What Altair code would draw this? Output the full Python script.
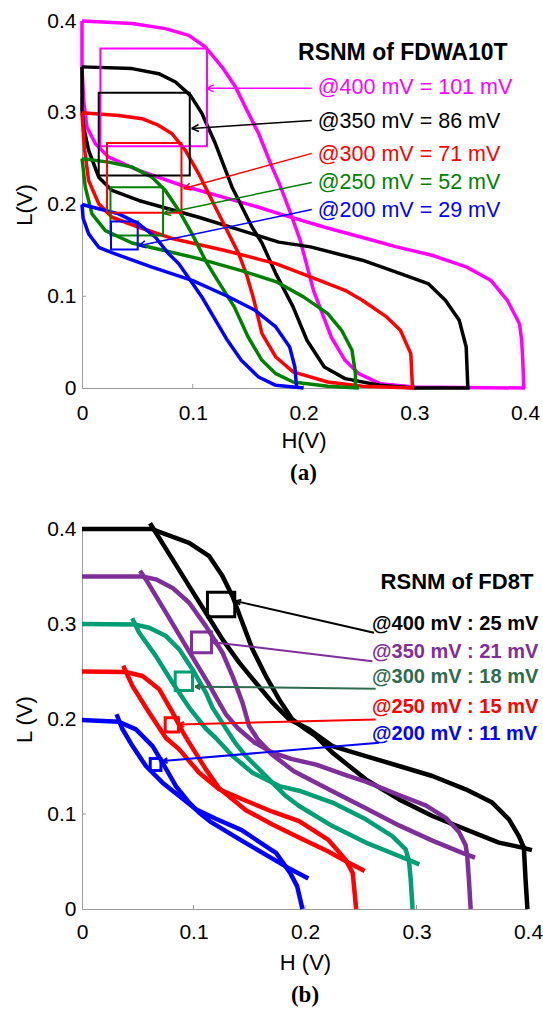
import math
import altair as alt
import pandas as pd

# ======================= Panel (a): RSNM of FDWA10T =======================
# butterfly curves, (H, L) in volts
A400_1 = [(0, 0.4), (0.0452, 0.3972), (0.0753, 0.3917), (0.0964, 0.3844), (0.1115, 0.3716), (0.1265, 0.3498),
          (0.1386, 0.328), (0.149, 0.3026), (0.1596, 0.2771), (0.1716, 0.2407), (0.1777, 0.224), (0.187, 0.195),
          (0.197, 0.161), (0.209, 0.1065), (0.225, 0.0556), (0.2375, 0.0302), (0.25, 0.0156), (0.269, 0.0047),
          (0.3, 0.001), (0.4, 0)]
A400_2 = [(0.399, 0), (0.398, 0.03), (0.397, 0.052), (0.395, 0.07), (0.384, 0.0956), (0.369, 0.1175), (0.347, 0.132),
          (0.316, 0.1447), (0.284, 0.1538), (0.2625, 0.161), (0.22, 0.175), (0.1777, 0.19), (0.1596, 0.197),
          (0.0903, 0.2207), (0.0512, 0.2371), (0.0241, 0.2516), (0.0121, 0.2662), (0.0045, 0.2843),
          (0.0015, 0.3135), (0, 0.3498), (0, 0.4)]
A350_1 = [(0, 0.35), (0.0452, 0.3481), (0.0693, 0.3426), (0.0844, 0.3335), (0.0979, 0.3189), (0.1084, 0.299),
          (0.1205, 0.2662), (0.1355, 0.2189), (0.1536, 0.1752), (0.1625, 0.158), (0.175, 0.1247), (0.1906, 0.0884),
          (0.2031, 0.052), (0.2188, 0.0229), (0.2375, 0.0102), (0.2688, 0.0029), (0.3, 0), (0.35, 0)]
A350_2 = [(0.3484, 0), (0.3469, 0.0447), (0.3406, 0.0738), (0.3281, 0.0956), (0.3125, 0.1138), (0.2875, 0.1247),
          (0.2531, 0.1393), (0.2063, 0.1538), (0.1777, 0.159), (0.1054, 0.1861), (0.0512, 0.2044), (0.0271, 0.2153),
          (0.0151, 0.2298), (0.006, 0.2589), (0.0015, 0.2843), (0, 0.3026), (0, 0.35)]
A300_1 = [(0, 0.3), (0.0332, 0.2971), (0.0542, 0.2935), (0.0693, 0.2862), (0.0813, 0.2771), (0.0934, 0.2589),
          (0.1054, 0.2335), (0.1174, 0.2044), (0.1295, 0.1752), (0.1416, 0.1462), (0.149, 0.122), (0.155, 0.097),
          (0.1625, 0.0593), (0.175, 0.0338), (0.1906, 0.0175), (0.2219, 0.0065), (0.2531, 0.0018), (0.3, 0)]
A300_2 = [(0.2984, 0), (0.2969, 0.0375), (0.2875, 0.0629), (0.275, 0.0775), (0.2531, 0.0956), (0.2375, 0.1065),
          (0.2063, 0.1211), (0.175, 0.1356), (0.1281, 0.1502), (0.0813, 0.163), (0.0512, 0.1752), (0.0271, 0.1861),
          (0.0151, 0.2008), (0.006, 0.2262), (0.0024, 0.2589), (0.0006, 0.288), (0, 0.3)]
A250_1 = [(0, 0.25), (0.0241, 0.2462), (0.0452, 0.2407), (0.0632, 0.2298), (0.0753, 0.2153), (0.0874, 0.1935),
          (0.0994, 0.168), (0.1115, 0.1389), (0.121, 0.12), (0.1375, 0.0884), (0.15, 0.0556), (0.1625, 0.0302),
          (0.175, 0.0156), (0.1906, 0.0065), (0.2219, 0.0018), (0.25, 0)]
A250_2 = [(0.2469, 0), (0.2469, 0.0156), (0.2438, 0.0411), (0.2344, 0.0629), (0.2219, 0.0811), (0.2, 0.0993),
          (0.175, 0.116), (0.1438, 0.128), (0.1054, 0.141), (0.0452, 0.158), (0.0211, 0.1716), (0.009, 0.1898),
          (0.003, 0.2189), (0, 0.25)]
A200_1 = [(0, 0.2), (0.0151, 0.1953), (0.0332, 0.1898), (0.0512, 0.1789), (0.0663, 0.1643), (0.0783, 0.1462),
          (0.0874, 0.1353), (0.0975, 0.118), (0.1084, 0.0989), (0.1188, 0.0775), (0.1313, 0.052), (0.1438, 0.0302),
          (0.1594, 0.012), (0.175, 0.0029), (0.2, 0)]
A200_2 = [(0.1938, 0), (0.1922, 0.0229), (0.1875, 0.0447), (0.175, 0.0665), (0.1563, 0.0847), (0.1313, 0.1),
          (0.1, 0.117), (0.0625, 0.132), (0.0281, 0.147), (0.0151, 0.1534), (0.006, 0.168), (0.001, 0.185), (0, 0.2)]

A_CURVES = [A400_1, A400_2, A350_1, A350_2, A300_1, A300_2, A250_1, A250_2, A200_1, A200_2]
A_CURVE_COLORS = ["#FF00FF", "#FF00FF", "#000000", "#000000", "#FF0000", "#FF0000",
                  "#008000", "#008000", "#0000FF", "#0000FF"]

# RSNM boxes (H0, H1, L0, L1)
A_BOXES = [(0.0166, 0.1129, 0.2636, 0.3699), (0.0151, 0.0973, 0.2316, 0.3219), (0.0226, 0.0898, 0.1909, 0.2669),
           (0.0257, 0.0732, 0.1662, 0.2189), (0.0262, 0.0503, 0.1509, 0.1815)]
# arrows (tip H, tip L, tail H, tail L)
A_ARROWS = [(0.1126, 0.3266, 0.2075, 0.3266), (0.0991, 0.2829, 0.2075, 0.2916), (0.0919, 0.2175, 0.2075, 0.2557),
            (0.0738, 0.1902, 0.2075, 0.224), (0.0512, 0.155, 0.2075, 0.1945)]
A_LABELS = ["@400 mV = 101 mV", "@350 mV = 86 mV", "@300 mV = 71 mV", "@250 mV = 52 mV", "@200 mV = 29 mV"]
A_LABEL_H = [0.2129, 0.2129, 0.2129, 0.2129, 0.2129]
A_LABEL_L = [0.3266, 0.2895, 0.2535, 0.223, 0.1934]
A_COLORS = ["#FF00FF", "#000000", "#FF0000", "#008000", "#0000FF"]
A_TITLE = "RSNM of FDWA10T"
A_TITLE_POS = (0.2897, 0.3648)

# ======================= Panel (b): RSNM of FD8T =======================
B400_1 = [(0, 0.4), (0.063, 0.4), (0.0693, 0.397), (0.0961, 0.3855), (0.1141, 0.3714), (0.126, 0.3504),
          (0.135, 0.3293), (0.1439, 0.3013), (0.1529, 0.2733), (0.1649, 0.2452), (0.1768, 0.2206), (0.1887, 0.1996),
          (0.2007, 0.1891), (0.2097, 0.182), (0.2246, 0.1646), (0.2545, 0.1365), (0.2843, 0.1154), (0.3142, 0.0979),
          (0.3441, 0.0839), (0.3739, 0.0699), (0.3948, 0.0646), (0.4035, 0.062)]
B400_2 = [(0.061, 0.406), (0.0663, 0.396), (0.0812, 0.368), (0.0961, 0.3399), (0.1111, 0.3119), (0.126, 0.2838),
          (0.141, 0.2593), (0.1559, 0.2382), (0.1708, 0.2172), (0.1858, 0.1996), (0.2037, 0.1891), (0.2246, 0.1715),
          (0.2545, 0.161), (0.2843, 0.1505), (0.3142, 0.14), (0.3441, 0.126), (0.3679, 0.112), (0.3829, 0.0944),
          (0.3918, 0.0768), (0.3963, 0.0646), (0.3978, 0.0312), (0.3995, 0)]
B350_1 = [(0, 0.35), (0.054, 0.35), (0.0663, 0.347), (0.0812, 0.338), (0.0961, 0.3224), (0.1111, 0.2978),
          (0.126, 0.2698), (0.135, 0.2452), (0.1439, 0.2172), (0.1499, 0.1926), (0.158, 0.178), (0.17, 0.163),
          (0.19, 0.145), (0.2246, 0.124), (0.2545, 0.106), (0.2843, 0.088), (0.3142, 0.072), (0.341, 0.059),
          (0.3525, 0.054)]
B350_2 = [(0.052, 0.356), (0.0573, 0.3469), (0.0753, 0.3119), (0.0932, 0.2767), (0.113, 0.238), (0.129, 0.205),
          (0.14, 0.19), (0.155, 0.175), (0.17, 0.165), (0.1875, 0.158), (0.21, 0.152), (0.2366, 0.141),
          (0.2545, 0.134), (0.2843, 0.12), (0.3082, 0.109), (0.3262, 0.096), (0.3381, 0.081), (0.3441, 0.067),
          (0.3455, 0.056), (0.347, 0.031), (0.3486, 0)]
B300_1 = [(0, 0.3), (0.047, 0.2996), (0.0603, 0.2961), (0.0753, 0.2873), (0.0872, 0.2733), (0.0991, 0.2522),
          (0.1111, 0.2277), (0.117, 0.212), (0.128, 0.192), (0.138, 0.174), (0.147, 0.161), (0.1649, 0.1399),
          (0.1828, 0.1189), (0.1947, 0.1084), (0.2246, 0.0873), (0.2545, 0.0699), (0.2843, 0.0558), (0.3025, 0.047)]
B300_2 = [(0.045, 0.306), (0.0513, 0.2908), (0.0663, 0.2662), (0.0812, 0.2382), (0.0961, 0.212), (0.111, 0.19),
          (0.12, 0.18), (0.135, 0.161), (0.1529, 0.1435), (0.1768, 0.1294), (0.1947, 0.1245), (0.2246, 0.112),
          (0.2545, 0.0944), (0.2783, 0.0768), (0.2903, 0.0628), (0.2933, 0.0505), (0.2948, 0.0312), (0.2965, 0)]
B250_1 = [(0, 0.25), (0.039, 0.2495), (0.0543, 0.2452), (0.0693, 0.2312), (0.0812, 0.207), (0.0901, 0.187),
          (0.0961, 0.1751), (0.1111, 0.147), (0.123, 0.127), (0.147, 0.104), (0.1708, 0.089), (0.195, 0.075),
          (0.22, 0.061), (0.2397, 0.0483), (0.2535, 0.04)]
B250_2 = [(0.037, 0.256), (0.0453, 0.2346), (0.0603, 0.2066), (0.0753, 0.18), (0.0872, 0.168), (0.1051, 0.1435),
          (0.123, 0.126), (0.147, 0.114), (0.1708, 0.1024), (0.1947, 0.0925), (0.221, 0.0727), (0.2366, 0.0517),
          (0.2428, 0.0378), (0.2459, 0)]
B200_1 = [(0, 0.199), (0.033, 0.197), (0.0484, 0.1891), (0.0633, 0.1715), (0.0722, 0.154), (0.0842, 0.1294),
          (0.0961, 0.112), (0.1051, 0.1014), (0.115, 0.092), (0.1432, 0.072), (0.1708, 0.053), (0.1868, 0.042),
          (0.203, 0.032)]
B200_2 = [(0.031, 0.205), (0.036, 0.19), (0.0453, 0.1715), (0.0573, 0.1505), (0.0722, 0.133), (0.0872, 0.1189),
          (0.1021, 0.1049), (0.12, 0.095), (0.1432, 0.083), (0.165, 0.066), (0.1743, 0.0587), (0.1868, 0.0378),
          (0.193, 0.0238), (0.1977, 0)]

B_CURVES = [B400_1, B400_2, B350_1, B350_2, B300_1, B300_2, B250_1, B250_2, B200_1, B200_2]
B_CURVE_COLORS = ["#000000", "#000000", "#7F2F9A", "#7F2F9A", "#009E73", "#009E73",
                  "#FF0000", "#FF0000", "#0000FF", "#0000FF"]
B_BOXES = [(0.1125, 0.137, 0.3077, 0.3335), (0.0982, 0.1161, 0.2698, 0.2915), (0.0836, 0.0991, 0.2301, 0.2494),
           (0.0746, 0.0865, 0.1862, 0.2014), (0.0612, 0.0708, 0.1459, 0.1583)]
B_BOX_COLORS = ["#000000", "#7F2F9A", "#009E73", "#FF0000", "#0000FF"]
B_ARROWS = [(0.138, 0.3241, 0.2619, 0.2908), (0.117, 0.2809, 0.2604, 0.2609), (0.1015, 0.234, 0.2634, 0.2319),
            (0.0872, 0.1943, 0.2634, 0.1996), (0.0722, 0.1557, 0.2664, 0.1751)]
B_LABELS = ["@400 mV : 25 mV", "@350 mV : 21 mV", "@300 mV : 18 mV", "@250 mV : 15 mV", "@200 mV : 11 mV"]
B_LABEL_H = [0.2601, 0.2601, 0.2601, 0.2601, 0.2601]
B_LABEL_L = [0.2996, 0.2701, 0.2438, 0.2122, 0.1838]
B_COLORS = ["#000000", "#7F2F9A", "#2F6B4F", "#FF0000", "#0000FF"]
B_TITLE = "RSNM of FD8T"
B_TITLE_POS = (0.3363, 0.3441)

TICKS = [0, 0.1, 0.2, 0.3, 0.4]
AXIS_GRAY = "#9a9a9a"
ARROW_PATH = "M0,0L1,-0.5M0,0L1,0.5"


def panel(curves, curve_colors, boxes, box_colors, arrows, arrow_colors, labels, lab_h, lab_l, lab_colors,
          title, title_pos, W, Hh, xtitle, ytitle, caption, curve_w, box_w, arrow_w, head_size,
          lab_size, lab_weight, title_size, xlab_pad, xtitle_pad, cap_offset):
    pxH = W / 0.4
    pxL = Hh / 0.4
    rows = []
    for ci, (pts, col) in enumerate(zip(curves, curve_colors)):
        for k, (h, l) in enumerate(pts):
            rows.append({"id": f"c{ci}", "i": k, "H": h, "L": l, "col": col})
    line_df = pd.DataFrame(rows)
    box_df = pd.DataFrame([{"H": b[0], "H2": b[1], "L": b[2], "L2": b[3], "col": c}
                           for b, c in zip(boxes, box_colors)])
    arr_rows = []
    for (th, tl, sh, sl), c in zip(arrows, arrow_colors):
        dx = (th - sh) * pxH
        dy = -(tl - sl) * pxL
        ang = math.degrees(math.atan2(-dy, -dx)) % 360
        arr_rows.append({"H": th, "L": tl, "H2": sh, "L2": sl, "col": c, "ang": ang})
    arr_df = pd.DataFrame(arr_rows)
    lab_df = pd.DataFrame({"H": lab_h, "L": lab_l, "txt": labels, "col": lab_colors})
    title_df = pd.DataFrame({"H": [title_pos[0]], "L": [title_pos[1]], "txt": [title]})
    tick_rows = []
    for v in TICKS[1:4]:
        tick_rows.append({"H": v, "H2": v, "L": 0, "L2": 4 / pxL})
    for v in TICKS[1:5]:
        tick_rows.append({"H": 0, "H2": 4 / pxH, "L": v, "L2": v})
    tick_df = pd.DataFrame(tick_rows)

    xenc = alt.X("H:Q", scale=alt.Scale(domain=[0, 0.4], nice=False, zero=False),
                 axis=alt.Axis(values=TICKS, format=".1~f", title=xtitle, grid=False, ticks=False,
                               domainColor=AXIS_GRAY, labelFlush=False, labelOverlap=False,
                               labelPadding=xlab_pad, titlePadding=xtitle_pad))
    yenc = alt.Y("L:Q", scale=alt.Scale(domain=[0, 0.4], nice=False, zero=False),
                 axis=alt.Axis(values=TICKS, format=".1~f", title=ytitle, grid=False, ticks=False,
                               domainColor=AXIS_GRAY, labelFlush=False, labelOverlap=False,
                               labelPadding=6, titlePadding=10))

    ticks = alt.Chart(tick_df).mark_rule(color=AXIS_GRAY, strokeWidth=1).encode(
        x=xenc, y=yenc, x2="H2:Q", y2="L2:Q")
    lines = alt.Chart(line_df).mark_line(strokeWidth=curve_w, strokeJoin="round").encode(
        x=xenc, y=yenc, color=alt.Color("col:N", scale=None), detail="id:N", order="i:Q")
    rects = alt.Chart(box_df).mark_rect(fillOpacity=0, strokeWidth=box_w).encode(
        x=xenc, x2="H2:Q", y=yenc, y2="L2:Q", stroke=alt.Stroke("col:N", scale=None))
    rules = alt.Chart(arr_df).mark_rule(strokeWidth=arrow_w).encode(
        x=xenc, y=yenc, x2="H2:Q", y2="L2:Q", color=alt.Color("col:N", scale=None))
    heads = alt.Chart(arr_df).mark_point(shape=ARROW_PATH, filled=False, size=head_size,
                                         strokeWidth=arrow_w, opacity=1).encode(
        x=xenc, y=yenc, angle=alt.Angle("ang:Q", scale=None), color=alt.Color("col:N", scale=None))
    texts = alt.Chart(lab_df).mark_text(align="left", baseline="middle", fontSize=lab_size,
                                        fontWeight=lab_weight).encode(
        x=xenc, y=yenc, text="txt:N", color=alt.Color("col:N", scale=None))
    ttl = alt.Chart(title_df).mark_text(align="center", baseline="middle", fontSize=title_size,
                                        fontWeight="bold", color="black").encode(
        x=xenc, y=yenc, text="txt:N")
    return alt.layer(ticks, lines, rects, rules, heads, texts, ttl).properties(
        width=W, height=Hh,
        title=alt.TitleParams(caption, orient="bottom", font="Liberation Serif", fontSize=23,
                              fontWeight="bold", offset=cap_offset, anchor="middle", color="black"))


pa = panel(A_CURVES, A_CURVE_COLORS, A_BOXES, A_COLORS, A_ARROWS, A_COLORS, A_LABELS, A_LABEL_H, A_LABEL_L,
           A_COLORS, A_TITLE, A_TITLE_POS, W=443, Hh=367, xtitle="H(V)", ytitle="L(V)", caption="(a)",
           curve_w=3.5, box_w=2, arrow_w=1.5, head_size=196, lab_size=21.5, lab_weight="normal",
           title_size=23, xlab_pad=14, xtitle_pad=7, cap_offset=11)
pb = panel(B_CURVES, B_CURVE_COLORS, B_BOXES, B_BOX_COLORS, B_ARROWS, B_COLORS, B_LABELS, B_LABEL_H, B_LABEL_L,
           B_COLORS, B_TITLE, B_TITLE_POS, W=446, Hh=380, xtitle="H (V)", ytitle="L (V)", caption="(b)",
           curve_w=4.5, box_w=3, arrow_w=2, head_size=100, lab_size=20, lab_weight="bold",
           title_size=22, xlab_pad=12, xtitle_pad=10, cap_offset=11)

chart = alt.vconcat(pa, pb, spacing=141, bounds="flush").properties(
    padding={"left": 13, "top": 10, "right": 0, "bottom": 0}
).configure_view(stroke=None).configure_axis(
    labelFont="Liberation Sans", titleFont="Liberation Sans", labelFontSize=21, titleFontSize=22,
    titleFontWeight="normal", labelColor="black", titleColor="black"
).configure_text(font="Liberation Sans")

chart.save("out.html", embed_options={"renderer": "svg", "actions": False})
